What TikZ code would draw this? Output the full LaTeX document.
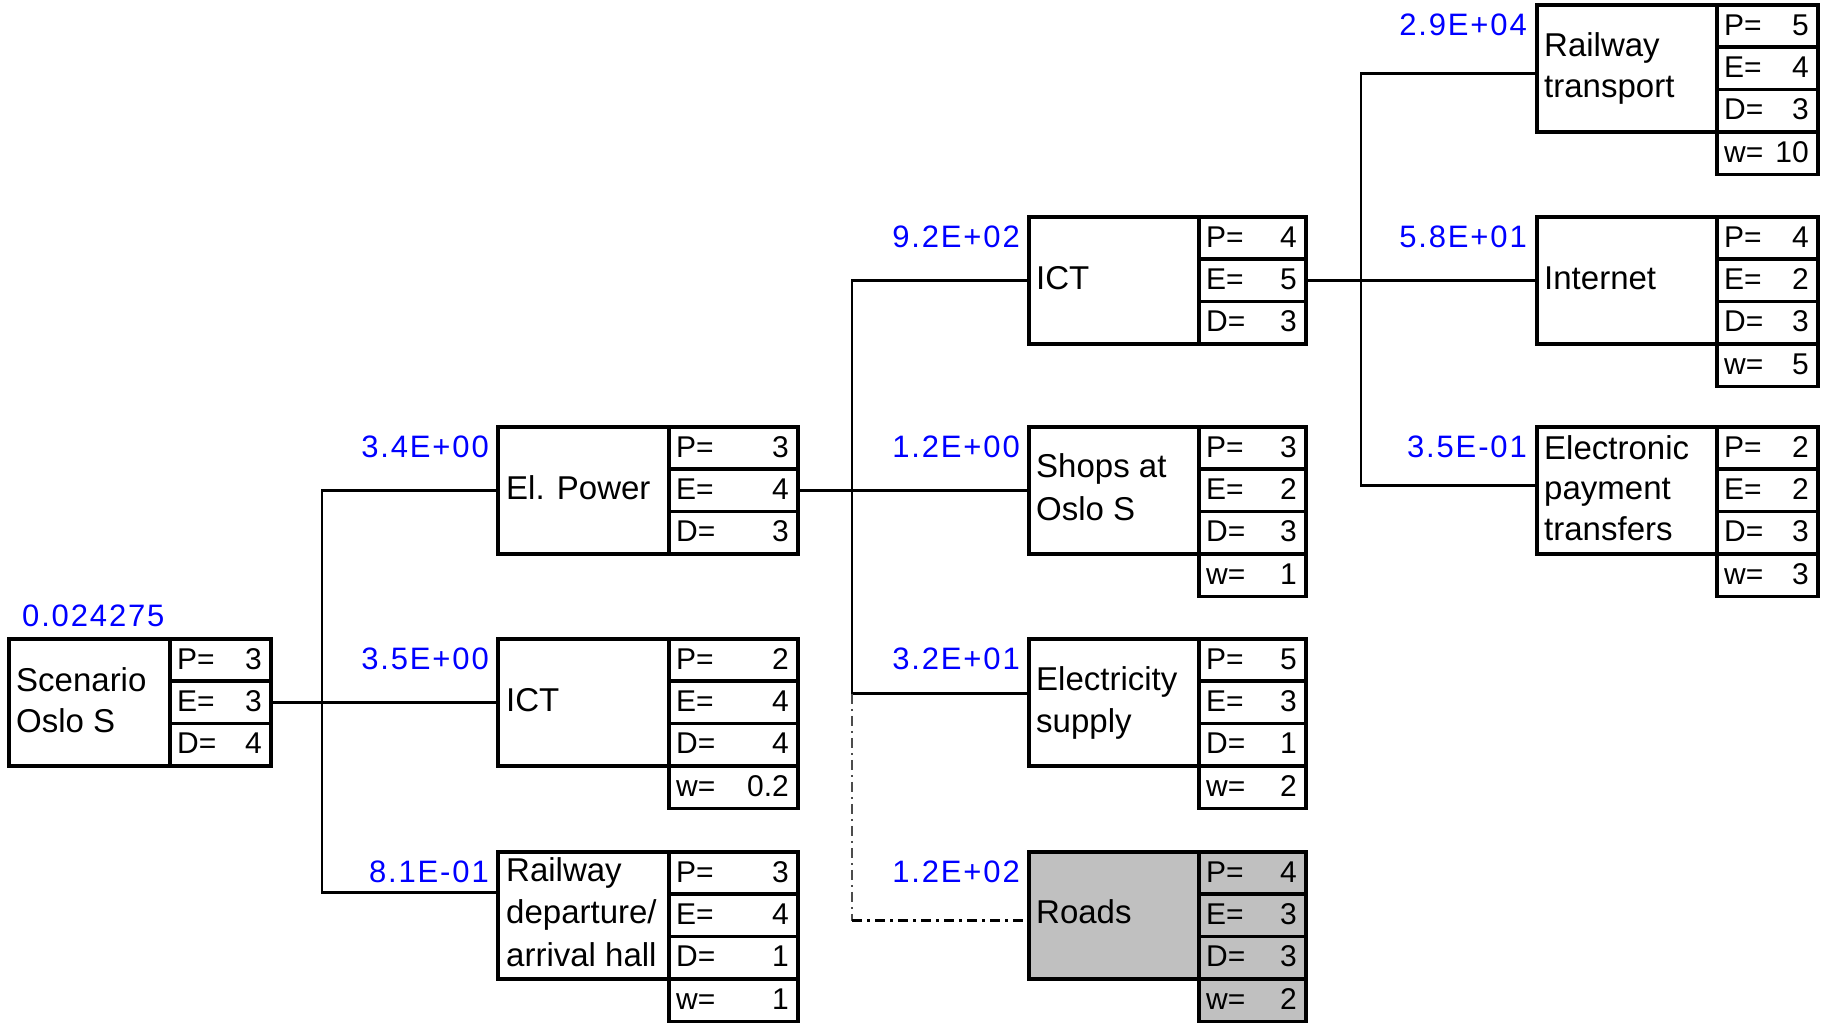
\documentclass[tikz,border=0pt]{standalone}
\usepackage{fontspec}
\setmainfont{Liberation Sans}
\usetikzlibrary{calc}
\definecolor{probblue}{RGB}{0,0,255}
\definecolor{roadgray}{RGB}{192,192,192}
\tikzset{
  mainbox/.style={draw, line width=3.6pt, inner sep=0pt, anchor=north west},
  cellbox/.style={draw, line width=3.6pt, inner sep=0pt, anchor=north west, minimum height=42.4pt},
  lbl/.style={font=\fontsize{33}{41}\selectfont, inner sep=0pt, anchor=base west, align=left},
  vkey/.style={font=\fontsize{30}{34}\selectfont, inner sep=0pt, anchor=base west},
  vnum/.style={font=\fontsize{30}{34}\selectfont, inner sep=0pt, anchor=base east},
  prob/.style={font=\fontsize{31}{34}\selectfont\addfontfeature{LetterSpace=6}, text=probblue, inner sep=0pt, anchor=base east},
  link/.style={line width=2.9pt},
  dashv/.style={line width=1.6pt, draw=black!70, dash pattern=on 10pt off 5pt on 2pt off 5pt},
  dashh/.style={line width=2.9pt, dash pattern=on 10pt off 5pt on 3pt off 5pt},
}
\newcommand{\boxfillcol}{white}
% name, left, divider, right, top, (unused), P, E, D
\newcommand{\riskbox}[9]{%
  \node[mainbox, fill=\boxfillcol, minimum width={#3-#2}, minimum height=127.2pt] (#1) at (#2,#5) {};
  \node[cellbox, fill=\boxfillcol, minimum width={#4-#3}] (#1P) at (#3,#5) {};
  \node[cellbox, fill=\boxfillcol, minimum width={#4-#3}] (#1E) at (#3,{#5+42.4}) {};
  \node[cellbox, fill=\boxfillcol, minimum width={#4-#3}] (#1D) at (#3,{#5+84.8}) {};
  \node[vkey] (#1Pk) at ({#3+9},{#5+32}) {P=};
  \node[vnum] (#1Pv) at ({#4-7},{#5+32}) {#7};
  \node[vkey] (#1Ek) at ({#3+9},{#5+74.4}) {E=};
  \node[vnum] (#1Ev) at ({#4-7},{#5+74.4}) {#8};
  \node[vkey] (#1Dk) at ({#3+9},{#5+116.8}) {D=};
  \node[vnum] (#1Dv) at ({#4-7},{#5+116.8}) {#9};
}
% name, divider, right, top of box, value
\newcommand{\wcell}[5]{%
  \node[cellbox, fill=\boxfillcol, minimum width={#3-#2}] (#1W) at (#2,{#4+127.2}) {};
  \node[vkey] (#1Wk) at ({#2+9},{#4+159.2}) {w=};
  \node[vnum] (#1Wv) at ({#3-7},{#4+159.2}) {#5};
}
\begin{document}
\begin{tikzpicture}[x=1pt,y=-1pt]
\fill[white] (0,0) rectangle (1825,1023);
\useasboundingbox (0,0) rectangle (1825,1023);

% level 0
\riskbox{s}{7}{168}{269}{637}{}{3}{3}{4}
% level 1
\riskbox{a}{496}{667}{796}{425}{}{3}{4}{3}
\riskbox{b}{496}{667}{796}{637}{}{2}{4}{4}
\wcell{b}{667}{796}{637}{0.2}
\riskbox{c}{496}{667}{796}{850}{}{3}{4}{1}
\wcell{c}{667}{796}{850}{1}
% level 2
\riskbox{d}{1027}{1197}{1304}{215}{}{4}{5}{3}
\riskbox{e}{1027}{1197}{1304}{425}{}{3}{2}{3}
\wcell{e}{1197}{1304}{425}{1}
\riskbox{f}{1027}{1197}{1304}{637}{}{5}{3}{1}
\wcell{f}{1197}{1304}{637}{2}
\renewcommand{\boxfillcol}{roadgray}
\riskbox{g}{1027}{1197}{1304}{850}{}{4}{3}{3}
\wcell{g}{1197}{1304}{850}{2}
\renewcommand{\boxfillcol}{white}
% level 3
\riskbox{h}{1535}{1715}{1816}{3}{}{5}{4}{3}
\wcell{h}{1715}{1816}{3}{10}
\riskbox{i}{1535}{1715}{1816}{215}{}{4}{2}{3}
\wcell{i}{1715}{1816}{215}{5}
\riskbox{j}{1535}{1715}{1816}{425}{}{2}{2}{3}
\wcell{j}{1715}{1816}{425}{3}

% box labels (base = baseline of the last line)
\node[lbl] (st) at (16,732) {Scenario\\Oslo S};
\node[lbl] (at) at (506,499) {El. Power};
\node[lbl] (bt) at (506,711) {ICT};
\node[lbl, font=\fontsize{33}{42.5}\selectfont] (ct) at (506,966) {Railway\\departure/\\arrival hall};
\node[lbl] (dt) at (1036,289) {ICT};
\node[lbl, font=\fontsize{33}{43}\selectfont] (et) at (1036,520) {Shops at\\Oslo S};
\node[lbl, font=\fontsize{33}{42}\selectfont] (ft) at (1036,732) {Electricity\\supply};
\node[lbl] (gt) at (1036,923) {Roads};
\node[lbl] (ht) at (1544,97) {Railway\\transport};
\node[lbl] (it) at (1544,289) {Internet};
\node[lbl, font=\fontsize{33}{40.5}\selectfont] (jt) at (1544,540) {Electronic\\payment\\transfers};

% probability values
\node[prob, anchor=base west] (sp) at (22,626) {0.024275};
\node[prob] (ap) at (489,457) {3.4E+00};
\node[prob] (bp) at (489,669) {3.5E+00};
\node[prob] (cp) at (489,882) {8.1E-01};
\node[prob] (dp) at (1020,247) {9.2E+02};
\node[prob] (ep) at (1020,457) {1.2E+00};
\node[prob] (fp) at (1020,669) {3.2E+01};
\node[prob] (gp) at (1020,882) {1.2E+02};
\node[prob] (hp) at (1527,35) {2.9E+04};
\node[prob] (ip) at (1527,247) {5.8E+01};
\node[prob] (jp) at (1527,457) {3.5E-01};

% connector ports and junctions
\coordinate (cport) at ([yshift=22.6pt]c.west);
\coordinate (fport) at ([yshift=8.6pt]f.west);
\coordinate (gport) at ([yshift=-5.4pt]g.west);
\coordinate (hport) at ([yshift=-5.4pt]h.west);
\coordinate (jport) at ([yshift=4.6pt]j.west);
\coordinate (j1) at (322,0);
\coordinate (j2) at (852,0);
\coordinate (j3) at (1361,0);

% connectors
\draw[link] (sE.east) -- (b.west);
\draw[link] (a.west) -| (j1 |- cport) -- (cport);
\draw[link] (aE.east) -- (e.west);
\draw[link] (d.west) -| (j2 |- fport) -- (fport);
\draw[dashv] (j2 |- fport) -- (j2 |- gport);
\draw[dashh] (j2 |- gport) -- (gport);
\draw[link] (dE.east) -- (i.west);
\draw[link] (hport) -| (j3 |- jport) -- (jport);
\end{tikzpicture}
\end{document}
